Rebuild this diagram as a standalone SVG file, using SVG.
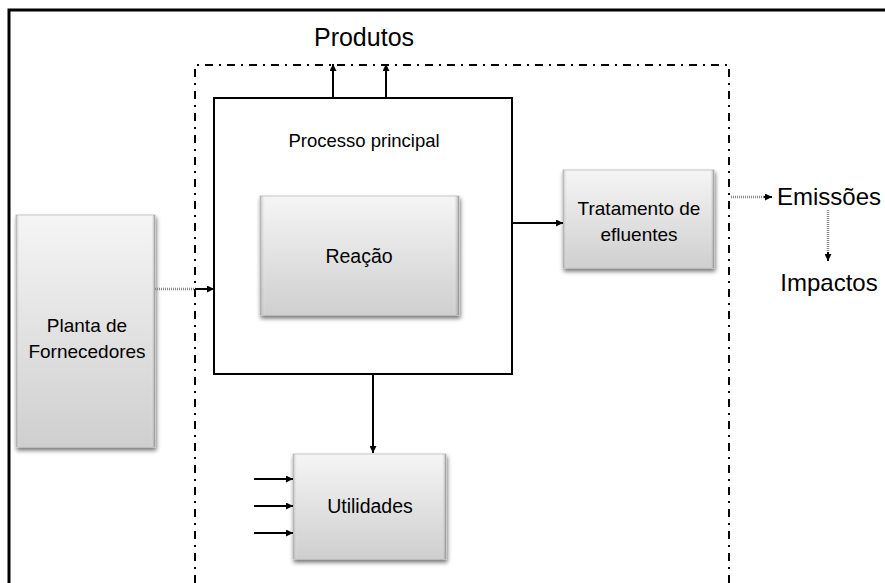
<svg xmlns="http://www.w3.org/2000/svg" width="885" height="583" viewBox="0 0 885 583">
<defs>
<linearGradient id="g" x1="0" y1="0" x2="0" y2="1">
<stop offset="0" stop-color="#f5f5f5"/>
<stop offset="1" stop-color="#cfcfcf"/>
</linearGradient>
<linearGradient id="bev" x1="0" y1="0" x2="1" y2="0">
<stop offset="0" stop-color="#8a8a8a" stop-opacity="0.55"/>
<stop offset="0.03" stop-color="#ffffff" stop-opacity="0"/>
<stop offset="0.97" stop-color="#ffffff" stop-opacity="0"/>
<stop offset="1" stop-color="#6a6a6a" stop-opacity="0.6"/>
</linearGradient>
<filter id="sh" x="-10%" y="-10%" width="125%" height="125%">
<feGaussianBlur in="SourceAlpha" stdDeviation="2"/>
<feOffset dx="1" dy="3" result="b"/>
<feComponentTransfer><feFuncA type="linear" slope="0.55"/></feComponentTransfer>
<feMerge><feMergeNode/><feMergeNode in="SourceGraphic"/></feMerge>
</filter>
<marker id="ah" viewBox="0 0 10 10" refX="10" refY="5" markerWidth="7" markerHeight="7" markerUnits="userSpaceOnUse" orient="auto">
<path d="M0,0 L10,5 L0,10 z" fill="#000"/>
</marker>
</defs>
<style>
.box{fill:url(#g);stroke:#c8c8c8;stroke-width:1;filter:url(#sh)}
.bev{fill:url(#bev);stroke:none}
.t{font-family:"Liberation Sans",Arial,sans-serif;fill:#000;text-anchor:middle}
.c{stroke:#000;stroke-width:2;fill:none;marker-end:url(#ah)}
.d{stroke:#888;stroke-width:2.5;stroke-dasharray:1,1;fill:none}
</style>
<rect width="885" height="583" fill="#fff"/>
<path d="M9,583 V10 H885" fill="none" stroke="#000" stroke-width="3"/>
<g id="boundary">
<path d="M195,583 V65 H729 V583" fill="none" stroke="#000" stroke-width="2" stroke-dasharray="8,6,2,6"/>
</g>
<g id="processo">
<rect x="214" y="98" width="298" height="276" fill="#fff" stroke="#000" stroke-width="2"/>
<text class="t" x="364" y="147" font-size="18.5">Processo principal</text>
</g>
<g id="reacao">
<rect class="box" x="260" y="196" width="199" height="119"/>
<rect class="bev" x="260" y="196" width="199" height="119"/>
<text class="t" x="359" y="263" font-size="19.5">Reação</text>
</g>
<g id="planta">
<rect class="box" x="16" y="215" width="139" height="232"/>
<rect class="bev" x="16" y="215" width="139" height="232"/>
<text class="t" x="87" y="332" font-size="19">Planta de</text>
<text class="t" x="87" y="358" font-size="19">Fornecedores</text>
</g>
<g id="tratamento">
<rect class="box" x="563" y="170" width="151" height="98"/>
<rect class="bev" x="563" y="170" width="151" height="98"/>
<text class="t" x="639" y="215" font-size="19">Tratamento de</text>
<text class="t" x="639" y="241" font-size="19">efluentes</text>
</g>
<g id="utilidades">
<rect class="box" x="293" y="454" width="153" height="105"/>
<rect class="bev" x="293" y="454" width="153" height="105"/>
<text class="t" x="370" y="513" font-size="19.5">Utilidades</text>
</g>
<g id="produtos"><text class="t" x="364" y="46" font-size="25">Produtos</text></g>
<g id="emissoes"><text class="t" x="829" y="205" font-size="24">Emissões</text></g>
<g id="impactos"><text class="t" x="829" y="291" font-size="24">Impactos</text></g>
<g id="connectors">
<path class="c" d="M333,98 V64"/>
<path class="c" d="M386,98 V64"/>
<path class="d" d="M155,289 H196"/>
<path class="c" d="M195,289 H214"/>
<path class="c" d="M512,223 H563"/>
<path class="d" d="M731,197 H766"/>
<path class="c" d="M764,197 H772"/>
<path class="d" d="M828,210 V255"/>
<path class="c" d="M828,252 V261"/>
<path class="c" d="M373,374 V453"/>
<path class="c" d="M254,479 H293"/>
<path class="c" d="M254,506 H293"/>
<path class="c" d="M254,533 H293"/>
</g>
</svg>
